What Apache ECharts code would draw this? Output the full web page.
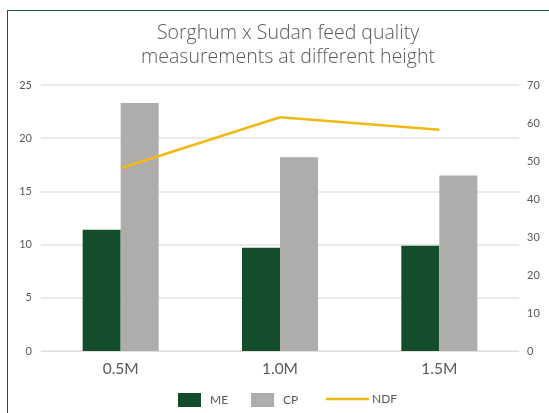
<!DOCTYPE html>
<html>
<head>
<meta charset="utf-8">
<script src="https://cdn.jsdelivr.net/npm/echarts@6/dist/echarts.min.js"></script>
<style>
html,body{margin:0;padding:0;background:#fff;}
#chart{position:absolute;left:0;top:0;width:549px;height:413px;}
#frame{position:absolute;left:7px;top:10px;width:560px;height:420px;border-left:1.5px solid #1f5a32;border-top:1.5px solid #1f5a32;pointer-events:none;}
</style>
</head>
<body>
<div id="chart"></div>
<div id="frame"></div>
<script>
const categories = ['0.5M', '1.0M', '1.5M'];
const meValues = [11.4, 9.7, 9.9];
const cpValues = [23.3, 18.2, 16.5];
const ndfValues = [48.1, 61.5, 58.2];
const leftTicks = {min: 0, max: 25, interval: 5};
const rightTicks = {min: 0, max: 70, interval: 10};

const chart = echarts.init(document.getElementById('chart'), null, {renderer: 'canvas'});
const font = 'Lato, "Open Sans", sans-serif';
const titleFont = '"Open Sans", Lato, sans-serif';
chart.setOption({
  animation: false,
  title: {
    text: 'Sorghum x Sudan feed quality\nmeasurements at different height',
    left: 283, top: 16, textAlign: 'center',
    textStyle: {fontFamily: titleFont, fontSize: 19.5, fontWeight: 300, color: '#595959', lineHeight: 24}
  },
  grid: {left: 41, right: 30, top: 85, bottom: 62, containLabel: false},
  legend: [
    {
      data: ['ME', 'CP'], left: 178, top: 393, padding: 0, itemWidth: 23, itemHeight: 14, itemGap: 23,
      icon: 'rect',
      textStyle: {fontFamily: font, fontSize: 12, color: '#595959', padding: [0, 0, 0, 4]}
    },
    {
      data: [{name: 'NDF', icon: 'rect'}], left: 326, top: 393, padding: 0, itemWidth: 43, itemHeight: 2.5,
      textStyle: {fontFamily: font, fontSize: 12, color: '#595959', padding: [0, 0, 0, -2]}
    }
  ],
  xAxis: {
    type: 'category', data: categories,
    axisLine: {lineStyle: {color: '#e0e0e0', width: 1}},
    axisTick: {show: false},
    axisLabel: {fontFamily: font, fontSize: 15.5, color: '#595959', margin: 10}
  },
  yAxis: [
    {
      type: 'value', min: leftTicks.min, max: leftTicks.max, interval: leftTicks.interval,
      axisLine: {show: false}, axisTick: {show: false},
      axisLabel: {fontFamily: font, fontSize: 11, color: '#595959', margin: 9},
      splitLine: {lineStyle: {color: '#e3e3e3', width: 1.5}}
    },
    {
      type: 'value', min: rightTicks.min, max: rightTicks.max, interval: rightTicks.interval,
      position: 'right',
      axisLine: {show: false}, axisTick: {show: false},
      axisLabel: {fontFamily: font, fontSize: 11, color: '#595959', margin: 8},
      splitLine: {show: false}
    }
  ],
  series: [
    {name: 'ME', type: 'bar', data: meValues, barWidth: 38, barGap: '0%', itemStyle: {color: '#134d2c'}},
    {name: 'CP', type: 'bar', data: cpValues, barWidth: 38, barGap: '0%', itemStyle: {color: '#aeadab'}},
    {name: 'NDF', type: 'line', yAxisIndex: 1, data: ndfValues, symbol: 'none',
     lineStyle: {color: '#f0b914', width: 2.5}, itemStyle: {color: '#f0b914'}}
  ]
});
</script>
</body>
</html>
